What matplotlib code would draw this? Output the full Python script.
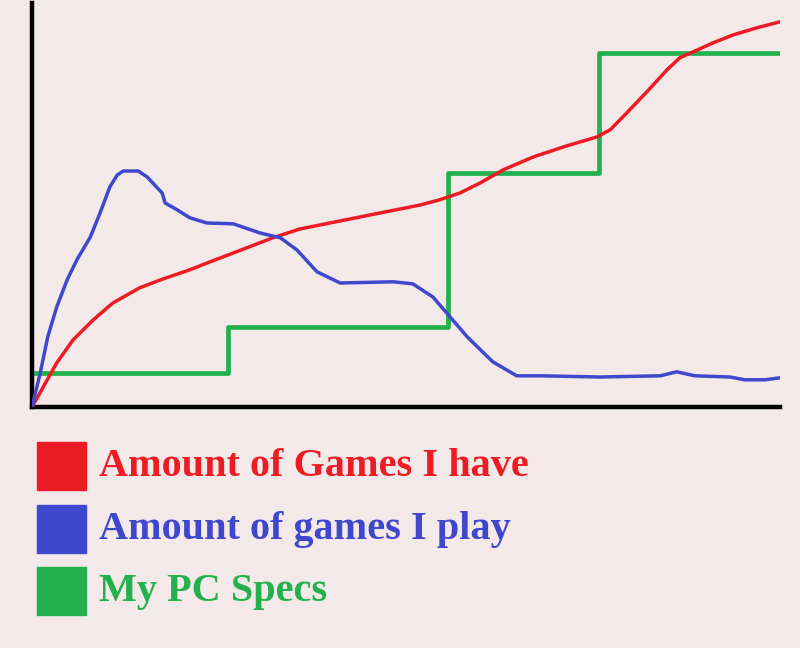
import matplotlib
matplotlib.use("Agg")
import matplotlib.pyplot as plt
from matplotlib.patches import Rectangle

# ---- data (time 0..100, value 0..100) ----
games_have_x = [0, 1.5, 3.3, 5.5, 8.2, 10.8, 14.4, 17.5, 21.1, 23.4, 26.9, 32.2, 35.8, 39.8,
                46.5, 51.9, 54.5, 57.2, 59.9, 63.0, 67.0, 71.5, 75.5, 77.3, 79.5, 82.2, 84.9,
                86.6, 88.4, 91.0, 93.7, 96.9, 100]
games_have_y = [0, 5.0, 11.0, 16.8, 21.8, 26.0, 29.8, 32.0, 34.3, 36.0, 38.5, 42.3, 44.5, 46.0,
                48.5, 50.5, 51.8, 53.5, 56.0, 59.3, 62.5, 65.3, 67.5, 69.3, 73.5, 78.8, 84.3,
                87.3, 88.8, 91.0, 93.0, 94.8, 96.3]

games_play_x = [0, 1.1, 2.1, 3.3, 4.7, 6.0, 7.8, 9.1, 10.4, 11.4, 12.2, 14.2, 15.4, 17.4, 17.8,
                19.4, 21.1, 23.4, 26.9, 30.5, 33.2, 35.4, 38.1, 41.2, 48.3, 50.9, 53.6, 55.9,
                58.2, 61.6, 64.8, 67.9, 75.9, 84.0, 86.2, 88.6, 93.3, 95.3, 98.0, 100]
games_play_y = [0, 8.5, 17.5, 25.0, 31.8, 36.8, 42.5, 48.5, 55.0, 58.0, 59.0, 59.0, 57.5, 53.5,
                51.0, 49.3, 47.3, 46.0, 45.8, 43.5, 42.3, 39.3, 33.8, 31.0, 31.3, 30.8, 27.5,
                22.5, 17.5, 11.3, 7.8, 7.8, 7.5, 7.8, 8.8, 7.8, 7.5, 6.8, 6.8, 7.3]

pc_specs_x = [-0.3, 26.2, 55.6, 75.8, 100]
pc_specs_y = [8.5, 20.0, 58.6, 88.5, 88.5]

legend_labels = ["Amount of Games I have", "Amount of games I play", "My PC Specs"]
RED, BLUE, GREEN = "#ED1C24", "#3F48CC", "#22B14C"
legend_colors = [RED, BLUE, GREEN]
BG = "#F4E9E9"

W, H = 800, 648
fig = plt.figure(figsize=(W / 100, H / 100), dpi=100, facecolor=BG)

def px_box(x0, y0, x1, y1):
    return [x0 / W, 1 - y1 / H, (x1 - x0) / W, (y1 - y0) / H]

ax = fig.add_axes(px_box(32, 3, 780, 407))
ax.set_facecolor(BG)
ax.set_xlim(0, 100)
ax.set_ylim(0, 101)

ax.plot(games_have_x, games_have_y, color=RED, lw=2.5, solid_capstyle="round",
        solid_joinstyle="round", zorder=3)
ax.plot(games_play_x, games_play_y, color=BLUE, lw=2.5, solid_capstyle="round",
        solid_joinstyle="round", zorder=3)
ax.step(pc_specs_x, pc_specs_y, where="post", color=GREEN, lw=3.4, zorder=2)

for s in ["top", "right"]:
    ax.spines[s].set_visible(False)
for s in ["left", "bottom"]:
    ax.spines[s].set_linewidth(3.2)
    ax.spines[s].set_color("black")
ax.set_xticks([])
ax.set_yticks([])

# legend drawn in pixel space
lax = fig.add_axes([0, 0, 1, 1])
lax.set_xlim(0, W)
lax.set_ylim(H, 0)
lax.axis("off")
tops = [442, 505, 567]
for lab, col, t in zip(legend_labels, legend_colors, tops):
    lax.add_patch(Rectangle((37, t), 49, 48, color=col))
    lax.text(99, t + 25, lab, color=col, fontsize=29, fontweight="bold",
             family="Liberation Serif", va="center", ha="left")

fig.savefig("out.png", dpi=100, facecolor=BG)
